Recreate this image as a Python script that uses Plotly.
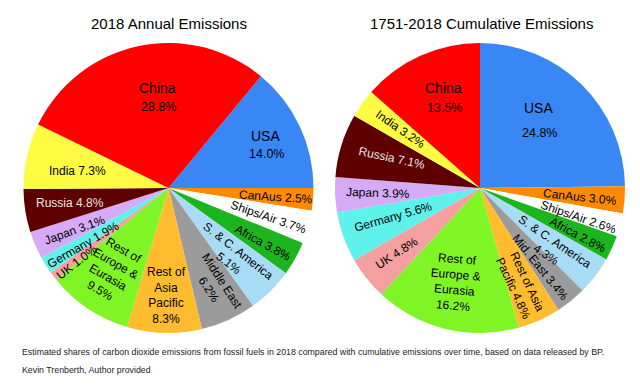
import plotly.graph_objects as go

# ---------------- data ----------------
regions = ["USA", "CanAus", "Ships/Air", "Africa", "S. & C. America", "Middle East",
           "Rest of Asia Pacific", "Rest of Europe & Eurasia", "UK", "Germany",
           "Japan", "Russia", "India", "China"]
annual_2018 = [14.0, 2.5, 3.7, 3.8, 5.1, 6.2, 8.3, 9.5, 1.0, 1.9, 3.1, 4.8, 7.3, 28.8]
cumulative_1751_2018 = [24.8, 3.0, 2.6, 2.8, 4.3, 3.4, 4.8, 16.2, 4.8, 5.6, 3.9, 7.1, 3.2, 13.5]

left_title = "2018 Annual Emissions"
right_title = "1751-2018 Cumulative Emissions"
caption_1 = ("Estimated shares of carbon dioxide emissions from fossil fuels in 2018 compared "
             "with cumulative emissions over time, based on data released by BP.")
caption_2 = "Kevin Trenberth, Author provided"

# label texts (as printed on the chart); big labels have name and share split by "|"
left_labels = ["USA|14.0%", "CanAus 2.5%", "Ships/Air 3.7%", "Africa 3.8%",
               "S. & C. America<br>5.1%", "Middle East<br>6.2%",
               "Rest of<br>Asia<br>Pacific<br>8.3%", "Rest of<br>Europe &<br>Eurasia<br>9.5%",
               "UK 1.0%", "Germany 1.9%", "Japan 3.1%", "Russia 4.8%", "India 7.3%",
               "China|28.8%"]
right_labels = ["USA|24.8%", "CanAus 3.0%", "Ships/Air 2.6%", "Africa 2.8%",
                "S. & C. America<br>4.3%", "Mid. East 3.4%",
                "Rest of Asia<br>Pacific 4.8%", "Rest of<br>Europe &<br>Eurasia<br>16.2%",
                "UK 4.8%", "Germany 5.6%", "Japan 3.9%", "Russia 7.1%", "India 3.2%",
                "China|13.5%"]

# ---------------- style ----------------
colors = ["#3987f5", "#ff8a00", "#ffffff", "#1db51d", "#a8dcf6", "#9b9b9b",
          "#ffbc2e", "#80f526", "#f5a0a0", "#5ff2ea", "#d5aaf6", "#5e0000",
          "#fdfc43", "#fe0000"]
label_colors = ["black"] * 11 + ["#e6e6e6", "black", "black"]

W, H = 640, 389
FONT = "Liberation Sans, Arial, Helvetica, sans-serif"

# label placement (pixel centre, rotation[, second-line y]) per slice
left_pos = [(265, 136, 0, 154), (276, 197, 4), (268, 217, 19), (263, 243, 29),
            (233, 257, 38), (215, 285, 57), (166, 295, 0), (112, 270, 30),
            (77, 262, -38), (83, 245, -30), (75, 230, -20), (70, 203, 0),
            (77, 171, 0), (157, 88, 0, 107)]
right_pos = [(538, 108, 0, 133), (580, 197, 6), (578, 217, 19), (578, 235, 28),
             (550, 248, 34), (540, 267, 51), (520, 285, 65), (455, 282, 5),
             (397, 253, -33), (393, 217, -16), (378, 193, 2), (392, 158, 12),
             (400, 129, 35), (443, 88, 0, 108)]


def px(x, y):
    return x / W, 1 - y / H


fig = go.Figure()
fig.add_trace(go.Pie(
    labels=regions, values=annual_2018, sort=False, direction="clockwise",
    rotation=90 - 360 * annual_2018[0] / sum(annual_2018),
    marker=dict(colors=colors, line=dict(width=0)),
    textinfo="none", hoverinfo="label+percent", showlegend=False,
    domain=dict(x=[23 / W, 314 / W], y=[1 - 333 / H, 1 - 43 / H]),
))
fig.add_trace(go.Pie(
    labels=regions, values=cumulative_1751_2018, sort=False, direction="clockwise",
    rotation=0,
    marker=dict(colors=colors, line=dict(width=0)),
    textinfo="none", hoverinfo="label+percent", showlegend=False,
    domain=dict(x=[335 / W, 625 / W], y=[1 - 333 / H, 1 - 43 / H]),
))


def note(txt, x, y, ang, size, color):
    ax, ay = px(x, y)
    return dict(x=ax, y=ay, xref="paper", yref="paper", text=txt, showarrow=False,
                textangle=ang, xanchor="center", yanchor="middle",
                font=dict(family=FONT, size=size, color=color))


annotations = []
for labels, pos in ((left_labels, left_pos), (right_labels, right_pos)):
    for i, (txt, p) in enumerate(zip(labels, pos)):
        if "|" in txt:
            name, share = txt.split("|")
            annotations.append(note(name, p[0], p[1], 0, 14, label_colors[i]))
            annotations.append(note(share, p[0] + 1, p[3], 0, 12.5, label_colors[i]))
        else:
            annotations.append(note(txt, p[0], p[1], p[2], 12, label_colors[i]))

# titles
for t, (x, y) in ((left_title, (169, 23)), (right_title, (481, 24))):
    annotations.append(note(t, x, y, 0, 15, "black"))

# caption
for t, y in ((caption_1, 352), (caption_2, 370)):
    ax, ay = px(20, y)
    annotations.append(dict(x=ax, y=ay, xref="paper", yref="paper", text=t,
                            showarrow=False, xanchor="left", yanchor="middle",
                            font=dict(family=FONT, size=8.8, color="#1a1a1a")))

fig.update_layout(
    width=W, height=H, margin=dict(l=0, r=0, t=0, b=0),
    paper_bgcolor="white", plot_bgcolor="white",
    annotations=annotations,
)

fig.write_html("out.html", config={"displayModeBar": False},
               post_script="document.body.style.margin='0';document.body.style.overflow='hidden';")
